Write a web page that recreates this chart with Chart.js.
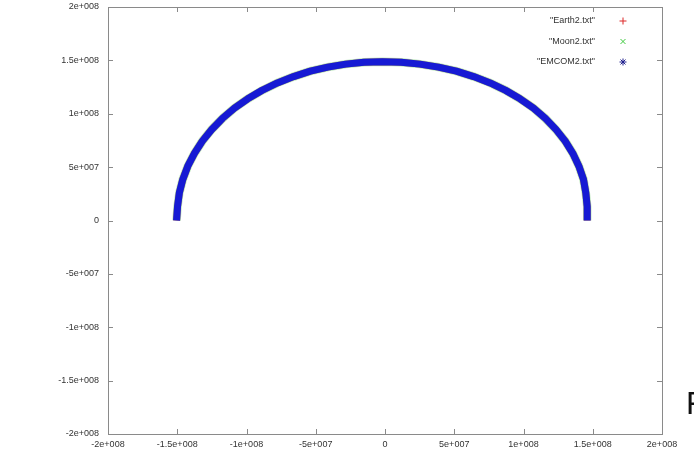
<!DOCTYPE html>
<html>
<head>
<meta charset="utf-8">
<script src="https://cdn.jsdelivr.net/npm/chart.js@4.4.1/dist/chart.umd.min.js"></script>
<style>
  html, body { margin: 0; padding: 0; background: #fff; }
  #wrap { position: relative; width: 694px; height: 465px; overflow: hidden; }
  #c { position: absolute; left: 0; top: 0; }
  #side { position: absolute; left: 686px; top: 385px; font: 32px "Liberation Sans", Arial, sans-serif; color: #111; }
</style>
</head>
<body>
<div id="wrap">
  <canvas id="c" width="694" height="465"></canvas>
  <div id="side">F</div>
</div>
<script>
// Orbit samples, km (x, y) — half a revolution, perihelion side to aphelion side
const orbitX = [1.460e8, 1.460e8, 1.450e8, 1.433e8, 1.400e8, 1.356e8, 1.301e8, 1.234e8, 1.158e8, 1.072e8,
                0.975e8, 0.871e8, 0.759e8, 0.640e8, 0.515e8, 0.386e8, 0.252e8, 0.117e8, -0.020e8,
                -0.152e8, -0.284e8, -0.413e8, -0.539e8, -0.660e8, -0.777e8, -0.888e8, -0.991e8, -1.087e8,
                -1.174e8, -1.251e8, -1.319e8, -1.376e8, -1.424e8, -1.460e8, -1.485e8, -1.498e8, -1.505e8];
const orbitY = [0.000e8, 0.130e8, 0.258e8, 0.385e8, 0.509e8, 0.629e8, 0.744e8, 0.853e8, 0.956e8, 1.053e8,
                1.140e8, 1.219e8, 1.289e8, 1.348e8, 1.399e8, 1.437e8, 1.465e8, 1.482e8, 1.488e8,
                1.482e8, 1.465e8, 1.437e8, 1.399e8, 1.348e8, 1.289e8, 1.219e8, 1.140e8, 1.053e8,
                0.956e8, 0.853e8, 0.744e8, 0.629e8, 0.509e8, 0.385e8, 0.258e8, 0.130e8, 0.000e8];

// At this scale the Earth, Moon and barycentre tracks overlap
const earthX = orbitX, earthY = orbitY;
const moonX = orbitX, moonY = orbitY;
const emcomX = orbitX, emcomY = orbitY;

const seriesLabels = ['"Earth2.txt"', '"Moon2.txt"', '"EMCOM2.txt"'];
const tickValues = [-2e8, -1.5e8, -1e8, -5e7, 0, 5e7, 1e8, 1.5e8, 2e8];

const pts = (xs, ys) => xs.map((x, i) => ({ x, y: ys[i] }));

// gnuplot-style exponent labels, e.g. 1.5e+008
function expLabel(v) {
  if (Math.abs(v) < 1) return '0';
  const e = Math.floor(Math.log10(Math.abs(v)) + 1e-9);
  const m = +(v / Math.pow(10, e)).toFixed(2);
  return m + 'e+' + String(e).padStart(3, '0');
}

const FONT = '"Liberation Sans", Arial, sans-serif';
const AXIS_GREY = '#8a8a8a';

// Frame around the plot with inward ticks on all four sides
const framePlugin = {
  id: 'frame',
  afterDraw(chart) {
    const { ctx, chartArea: a, scales } = chart;
    ctx.save();
    ctx.strokeStyle = AXIS_GREY;
    ctx.lineWidth = 1;
    ctx.strokeRect(Math.round(a.left) + 0.5, Math.round(a.top) + 0.5,
                   Math.round(a.right - a.left), Math.round(a.bottom - a.top));
    const L = 5;
    ctx.beginPath();
    tickValues.forEach(v => {
      const px = Math.round(scales.x.getPixelForValue(v)) + 0.5;
      ctx.moveTo(px, a.bottom); ctx.lineTo(px, a.bottom - L);
      ctx.moveTo(px, a.top); ctx.lineTo(px, a.top + L);
      const py = Math.round(scales.y.getPixelForValue(v)) + 0.5;
      ctx.moveTo(a.left, py); ctx.lineTo(a.left + L, py);
      ctx.moveTo(a.right, py); ctx.lineTo(a.right - L, py);
    });
    ctx.stroke();
    ctx.restore();
  }
};

// Key in the upper right, text right-aligned with the symbol after it
const keyPlugin = {
  id: 'key',
  afterDraw(chart) {
    const { ctx } = chart;
    ctx.save();
    ctx.font = '9px ' + FONT;
    ctx.textAlign = 'right';
    ctx.textBaseline = 'middle';
    chart.data.datasets.forEach((ds, i) => {
      const y = 21 + i * 20.5;
      ctx.fillStyle = '#333';
      ctx.fillText(ds.label, 595, y);
      ctx.strokeStyle = ds.keyColor;
      ctx.fillStyle = ds.keyColor;
      ctx.lineWidth = 1;
      Chart.helpers.drawPoint(ctx, { pointStyle: ds.pointStyle, radius: 3.5, rotation: 0, borderWidth: 1 }, 623, y);
    });
    ctx.restore();
  }
};

new Chart(document.getElementById('c'), {
  type: 'scatter',
  data: {
    datasets: [
      {
        label: seriesLabels[0], data: pts(earthX, earthY), order: 2,
        showLine: true, borderColor: 'rgb(220,60,60)', borderWidth: 7,
        pointRadius: 0, pointStyle: 'cross', keyColor: 'rgb(220,40,40)'
      },
      {
        label: seriesLabels[1], data: pts(moonX, moonY), order: 1,
        showLine: true, borderColor: 'rgba(110,200,110,0.45)', borderWidth: 8.5,
        pointRadius: 0, pointStyle: 'crossRot', keyColor: 'rgb(60,200,60)'
      },
      {
        label: seriesLabels[2], data: pts(emcomX, emcomY), order: 0,
        showLine: true, borderColor: 'rgb(22,26,212)', borderWidth: 7,
        borderJoinStyle: 'round', borderCapStyle: 'butt',
        pointRadius: 0, pointStyle: 'star', keyColor: 'rgb(30,30,140)'
      }
    ]
  },
  options: {
    responsive: false,
    animation: false,
    devicePixelRatio: 1,
    layout: { padding: { top: 7, right: 32, left: 0, bottom: 0 } },
    plugins: { legend: { display: false }, tooltip: { enabled: false } },
    scales: {
      x: {
        type: 'linear', min: -2e8, max: 2e8,
        afterBuildTicks: s => { s.ticks = tickValues.map(v => ({ value: v })); },
        afterFit: s => { s.height = 31; s.paddingLeft = 0; s.paddingRight = 0; },
        grid: { display: false, drawTicks: false },
        border: { display: false },
        ticks: {
          autoSkip: false, maxRotation: 0, padding: 5,
          color: '#333', font: { family: FONT, size: 9 },
          callback: v => expLabel(v)
        }
      },
      y: {
        type: 'linear', min: -2e8, max: 2e8,
        afterBuildTicks: s => { s.ticks = tickValues.map(v => ({ value: v })); },
        afterFit: s => { s.width = 108; s.paddingTop = 0; s.paddingBottom = 0; },
        grid: { display: false, drawTicks: false },
        border: { display: false },
        ticks: {
          autoSkip: false, padding: 9,
          color: '#333', font: { family: FONT, size: 9 },
          callback: v => expLabel(v)
        }
      }
    }
  },
  plugins: [framePlugin, keyPlugin]
});
</script>
</body>
</html>
